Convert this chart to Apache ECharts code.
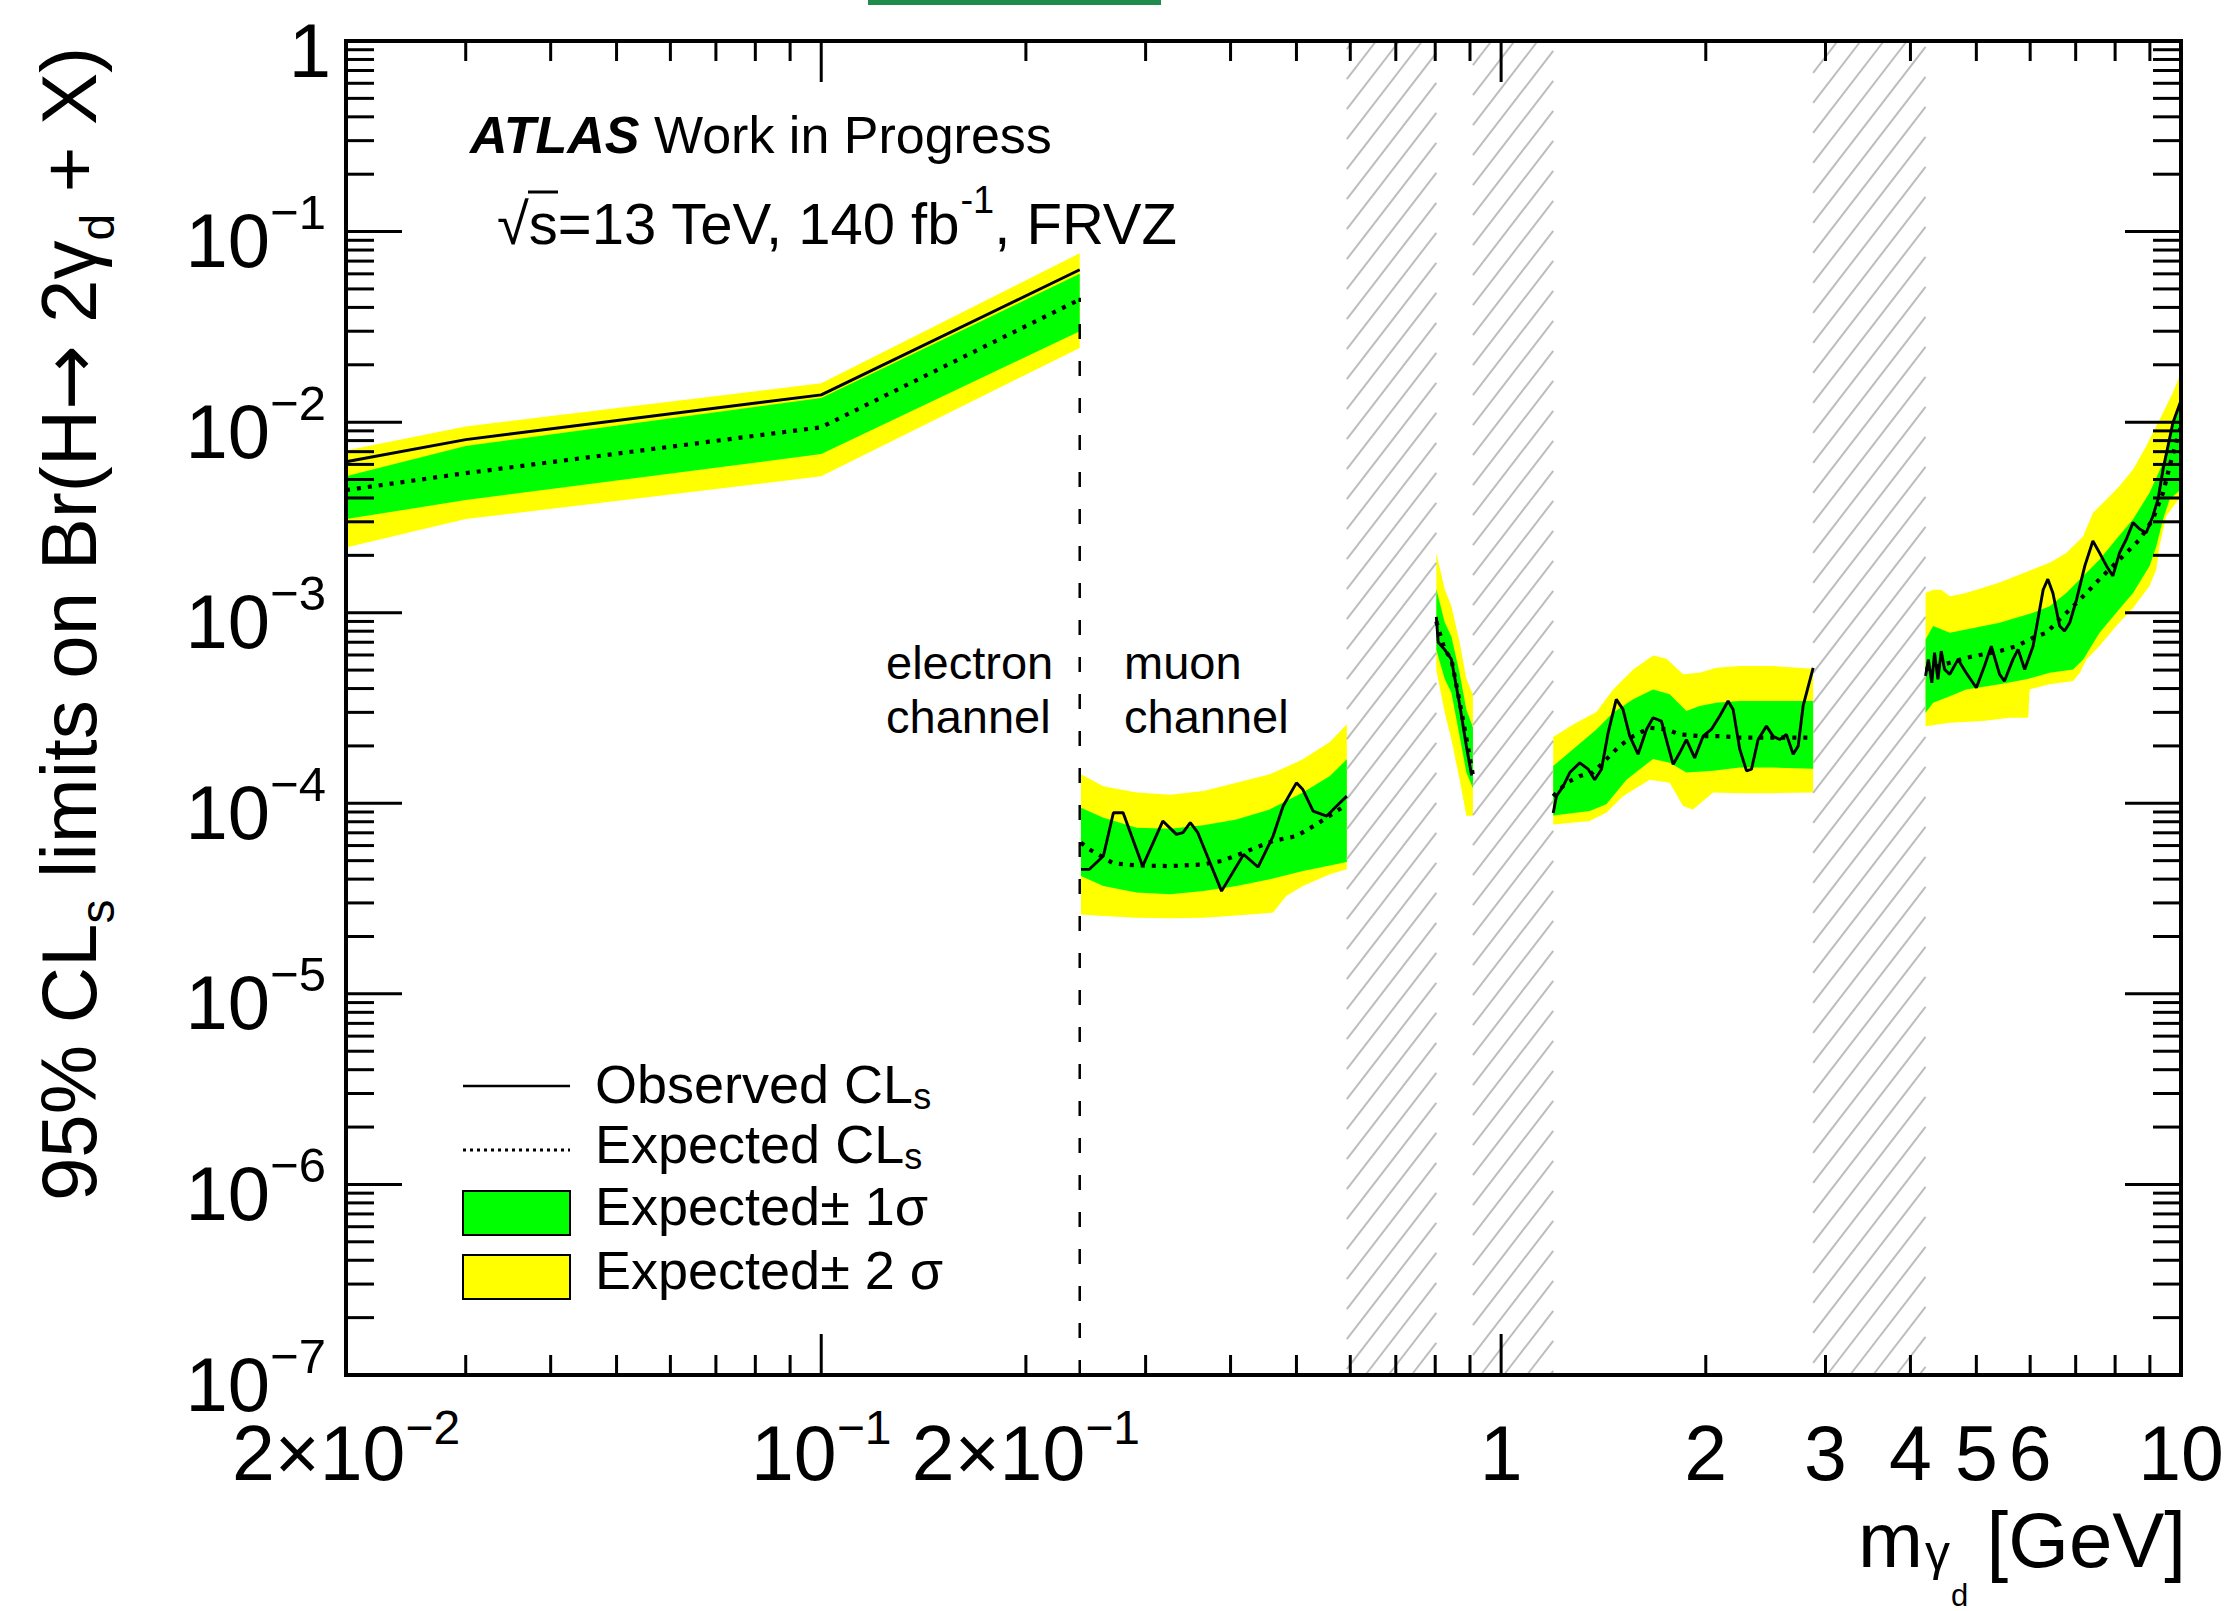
<!DOCTYPE html>
<html>
<head>
<meta charset="utf-8">
<title>FRVZ dark photon limits</title>
<script src="https://cdn.jsdelivr.net/npm/echarts@6.0.0/dist/echarts.min.js"></script>
<style>
html, body { margin:0; padding:0; background:#ffffff; }
#chart { width:2233px; height:1611px; }
</style>
</head>
<body>
<div id="chart"></div>
<script>
// ---------------- axis ranges & ticks ----------------
const X_MIN = 0.02, X_MAX = 10;
const Y_MIN = 1e-7, Y_MAX = 1;

const xLabelValues = [0.02, 0.1, 0.2, 1, 2, 3, 4, 5, 6, 10];
const xLabelBases  = ['2×10', '10', '2×10', '1', '2', '3', '4', '5', '6', '10'];
const xLabelExps   = ['−2', '−1', '−1', '', '', '', '', '', '', ''];

const yLabelValues = [1, 1e-1, 1e-2, 1e-3, 1e-4, 1e-5, 1e-6, 1e-7];
const yLabelBases  = ['1', '10', '10', '10', '10', '10', '10', '10'];
const yLabelExps   = ['', '−1', '−2', '−3', '−4', '−5', '−6', '−7'];

const xMajorTicks = [0.1, 1];
const xMinorTicks = [0.03, 0.04, 0.05, 0.06, 0.07, 0.08, 0.09,
                     0.2, 0.3, 0.4, 0.5, 0.6, 0.7, 0.8, 0.9,
                     2, 3, 4, 5, 6, 7, 8, 9];
const yDecades = [1e-7, 1e-6, 1e-5, 1e-4, 1e-3, 1e-2, 1e-1, 1];
const yMinorMultipliers = [2, 3, 4, 5, 6, 7, 8, 9];

// ---------------- electron channel [m (GeV), Br] ----------------
const elecObs  = [[0.02,0.0062],[0.03,0.0081],[0.1,0.0139],[0.24,0.063]];
const elecExp  = [[0.02,0.0044],[0.03,0.0054],[0.1,0.0094],[0.24,0.044]];
const elecG1Hi = [[0.02,0.0052],[0.03,0.0075],[0.1,0.0134],[0.24,0.060]];
const elecG1Lo = [[0.02,0.0031],[0.03,0.0039],[0.1,0.0068],[0.24,0.030]];
const elecY2Hi = [[0.02,0.0071],[0.03,0.0095],[0.1,0.016],[0.24,0.077]];
const elecY2Lo = [[0.02,0.0022],[0.03,0.0031],[0.1,0.0052],[0.24,0.0245]];

// ---------------- muon channel, segment 1 ----------------
const mu1Obs = [[0.241,4.50e-5],[0.248,4.51e-5],[0.260,5.29e-5],[0.269,8.92e-5],[0.278,8.92e-5],[0.297,4.68e-5],
  [0.318,8.07e-5],[0.333,6.87e-5],[0.3405,7.01e-5],[0.349,7.91e-5],[0.358,7.01e-5],[0.388,3.46e-5],[0.418,5.39e-5],
  [0.439,4.63e-5],[0.462,6.73e-5],[0.478,9.67e-5],[0.500,1.28e-4],[0.511,1.18e-4],[0.529,9.10e-5],[0.554,8.57e-5],
  [0.573,9.67e-5],[0.593,1.09e-4]];
const mu1Exp = [[0.241,6.21e-5],[0.248,5.73e-5],[0.269,4.84e-5],[0.291,4.72e-5],[0.326,4.68e-5],[0.365,4.78e-5],
  [0.388,4.98e-5],[0.418,5.50e-5],[0.439,5.92e-5],[0.462,6.34e-5],[0.500,6.73e-5],[0.535,7.75e-5],[0.573,9.10e-5],[0.593,9.87e-5]];
const mu1G1Hi = [[0.241,9.48e-5],[0.260,8.40e-5],[0.291,7.44e-5],[0.326,7.35e-5],[0.365,7.66e-5],[0.408,8.23e-5],
  [0.457,9.29e-5],[0.511,1.14e-4],[0.560,1.39e-4],[0.593,1.70e-4]];
const mu1G1Lo = [[0.241,4.15e-5],[0.260,3.68e-5],[0.291,3.40e-5],[0.326,3.33e-5],[0.365,3.46e-5],[0.408,3.68e-5],
  [0.457,3.99e-5],[0.511,4.41e-5],[0.560,4.72e-5],[0.593,4.92e-5]];
const mu1Y2Hi = [[0.241,1.42e-4],[0.260,1.23e-4],[0.291,1.14e-4],[0.326,1.11e-4],[0.365,1.16e-4],[0.408,1.28e-4],
  [0.457,1.42e-4],[0.511,1.70e-4],[0.560,2.10e-4],[0.593,2.60e-4]];
const mu1Y2Lo = [[0.241,2.61e-5],[0.260,2.56e-5],[0.291,2.51e-5],[0.326,2.49e-5],[0.365,2.51e-5],[0.408,2.58e-5],
  [0.462,2.67e-5],[0.483,3.26e-5],[0.511,3.68e-5],[0.560,4.24e-5],[0.593,4.50e-5]];

// ---------------- muon channel, segment 2 ----------------
const mu2Obs  = [[0.803,9.5e-4],[0.808,7.0e-4],[0.826,6.4e-4],[0.845,5.7e-4],[0.869,3.3e-4],[0.889,2.0e-4],[0.905,1.4e-4]];
const mu2Exp  = [[0.803,9.0e-4],[0.826,6.4e-4],[0.845,5.7e-4],[0.869,3.4e-4],[0.889,2.2e-4],[0.909,1.4e-4]];
const mu2G1Hi = [[0.803,1.33e-3],[0.826,8.9e-4],[0.845,7.5e-4],[0.869,4.8e-4],[0.889,3.1e-4],[0.909,2.5e-4]];
const mu2G1Lo = [[0.803,6.4e-4],[0.826,4.5e-4],[0.845,3.8e-4],[0.869,2.25e-4],[0.889,1.45e-4],[0.909,1.2e-4]];
const mu2Y2Hi = [[0.803,2.06e-3],[0.826,1.33e-3],[0.845,1.08e-3],[0.869,7.0e-4],[0.889,4.5e-4],[0.909,3.7e-4]];
const mu2Y2Lo = [[0.803,5.0e-4],[0.826,3.0e-4],[0.845,2.16e-4],[0.869,1.33e-4],[0.889,8.6e-5],[0.909,8.6e-5]];

// ---------------- muon channel, segment 3 ----------------
const mu3Obs = [[1.193,8.9e-5],[1.206,1.09e-4],[1.234,1.23e-4],[1.262,1.45e-4],[1.305,1.63e-4],[1.343,1.51e-4],
  [1.373,1.33e-4],[1.405,1.51e-4],[1.437,2.35e-4],[1.477,3.51e-4],[1.511,3.11e-4],[1.546,2.25e-4],[1.590,1.81e-4],
  [1.636,2.44e-4],[1.673,2.81e-4],[1.721,2.70e-4],[1.760,2.00e-4],[1.791,1.60e-4],[1.831,1.84e-4],[1.873,2.16e-4],
  [1.926,1.73e-4],[1.982,2.25e-4],[2.038,2.44e-4],[2.097,2.87e-4],[2.157,3.44e-4],[2.194,3.11e-4],[2.244,1.92e-4],
  [2.296,1.48e-4],[2.335,1.51e-4],[2.388,2.16e-4],[2.456,2.54e-4],[2.512,2.25e-4],[2.569,2.16e-4],[2.628,2.30e-4],
  [2.689,1.81e-4],[2.735,2.00e-4],[2.781,3.24e-4],[2.877,5.14e-4]];
const mu3Exp = [[1.193,1.09e-4],[1.248,1.28e-4],[1.305,1.39e-4],[1.365,1.45e-4],[1.428,1.70e-4],[1.494,2.00e-4],
  [1.564,2.25e-4],[1.654,2.49e-4],[1.751,2.44e-4],[1.831,2.30e-4],[1.959,2.25e-4],[2.097,2.25e-4],[2.244,2.21e-4],
  [2.401,2.21e-4],[2.569,2.21e-4],[2.750,2.21e-4],[2.877,2.21e-4]];
const mu3G1Hi = [[1.193,1.57e-4],[1.276,1.92e-4],[1.381,2.44e-4],[1.461,2.99e-4],[1.564,3.51e-4],[1.673,3.96e-4],
  [1.770,3.73e-4],[1.873,3.05e-4],[1.959,3.24e-4],[2.073,3.37e-4],[2.244,3.44e-4],[2.512,3.44e-4],[2.877,3.44e-4]];
const mu3G1Lo = [[1.193,8.64e-5],[1.350,9.10e-5],[1.428,9.87e-5],[1.529,1.33e-4],[1.673,1.71e-4],[1.770,1.63e-4],
  [1.873,1.45e-4],[2.050,1.48e-4],[2.244,1.54e-4],[2.512,1.54e-4],[2.877,1.52e-4]];
const mu3Y2Hi = [[1.193,2.23e-4],[1.276,2.59e-4],[1.381,3.01e-4],[1.461,3.96e-4],[1.564,5.04e-4],[1.673,5.97e-4],
  [1.751,5.73e-4],[1.852,4.75e-4],[1.959,4.84e-4],[2.073,5.14e-4],[2.244,5.25e-4],[2.512,5.25e-4],[2.877,5.08e-4]];
const mu3Y2Lo = [[1.193,7.75e-5],[1.350,8.07e-5],[1.428,8.92e-5],[1.511,1.09e-4],[1.654,1.33e-4],[1.770,1.28e-4],
  [1.852,9.67e-5],[1.915,9.29e-5],[2.050,1.14e-4],[2.244,1.13e-4],[2.512,1.13e-4],[2.877,1.14e-4]];

// ---------------- muon channel, segment 4 ----------------
const mu4Obs = [[4.21,4.65e-4],[4.25,5.69e-4],[4.30,4.29e-4],[4.34,6.17e-4],[4.39,4.47e-4],[4.44,6.29e-4],[4.49,5.04e-4],
  [4.57,4.75e-4],[4.70,5.69e-4],[4.83,4.84e-4],[5.00,4.04e-4],[5.14,5.25e-4],[5.26,6.68e-4],[5.41,4.75e-4],[5.50,4.38e-4],
  [5.66,5.69e-4],[5.76,6.42e-4],[5.89,5.04e-4],[6.06,6.68e-4],[6.16,9.23e-4],[6.27,1.32e-3],[6.37,1.50e-3],[6.48,1.27e-3],
  [6.63,8.51e-4],[6.74,8.01e-4],[6.86,8.86e-4],[7.02,1.17e-3],[7.22,1.76e-3],[7.42,2.38e-3],[7.59,2.06e-3],[7.77,1.76e-3],
  [7.94,1.56e-3],[8.12,2.06e-3],[8.31,2.43e-3],[8.50,2.97e-3],[8.70,2.74e-3],[8.89,2.63e-3],[9.09,3.21e-3],[9.25,3.93e-3],
  [9.41,5.65e-3],[9.57,7.49e-3],[9.73,9.93e-3],[10.0,1.3e-2]];
const mu4Exp = [[4.21,5.04e-4],[4.57,5.46e-4],[4.83,5.80e-4],[5.11,6.04e-4],[5.41,6.29e-4],[5.73,6.68e-4],[6.06,7.39e-4],
  [6.34,7.85e-4],[6.63,9.23e-4],[6.94,1.08e-3],[7.26,1.27e-3],[7.59,1.50e-3],[7.94,1.76e-3],[8.31,2.06e-3],[8.70,2.43e-3],
  [9.09,3.09e-3],[9.41,4.26e-3],[9.68,6.37e-3],[9.84,7.79e-3],[10.0,9.53e-3]];
const mu4G1Hi = [[4.21,7.24e-4],[4.32,8.51e-4],[4.57,7.85e-4],[4.83,8.17e-4],[5.41,8.86e-4],[6.06,1.00e-3],[6.41,1.08e-3],
  [6.78,1.27e-3],[7.18,1.56e-3],[7.59,1.90e-3],[8.03,2.43e-3],[8.50,3.09e-3],[8.99,4.26e-3],[9.41,6.12e-3],[9.73,9.53e-3],[10.0,1.37e-2]];
const mu4G1Lo = [[4.21,2.99e-4],[4.32,3.37e-4],[4.57,3.65e-4],[4.83,3.96e-4],[5.41,4.21e-4],[5.92,4.47e-4],[6.41,4.84e-4],
  [6.94,5.04e-4],[7.18,5.69e-4],[7.59,7.85e-4],[8.03,1.00e-3],[8.50,1.27e-3],[8.99,1.76e-3],[9.20,2.24e-3],[9.41,3.09e-3],
  [9.62,3.93e-3],[10.0,4.44e-3]];
const mu4Y2Hi = [[4.21,1.27e-3],[4.32,1.32e-3],[4.44,1.32e-3],[4.57,1.22e-3],[4.83,1.27e-3],[5.41,1.44e-3],[6.06,1.69e-3],
  [6.41,1.83e-3],[6.78,2.06e-3],[7.18,2.52e-3],[7.42,3.34e-3],[7.77,3.93e-3],[8.12,4.62e-3],[8.50,5.65e-3],[8.89,7.49e-3],
  [9.30,1.03e-2],[9.73,1.43e-2],[10.0,1.82e-2]];
const mu4Y2Lo = [[4.21,2.54e-4],[4.57,2.65e-4],[5.11,2.70e-4],[5.60,2.81e-4],[5.96,2.81e-4],[5.99,3.96e-4],[6.41,4.21e-4],
  [6.94,4.38e-4],[7.10,4.84e-4],[7.26,5.69e-4],[7.59,6.68e-4],[8.03,8.51e-4],[8.50,1.06e-3],[8.99,1.38e-3],[9.20,1.69e-3],
  [9.30,2.24e-3],[9.51,3.21e-3],[10.0,4.09e-3]];

// ---------------- vetoed (hatched) mass windows and channel divider ----------------
const vetoWindows = [[0.593, 0.803], [0.909, 1.193], [2.877, 4.21]];
const channelDivider = [[0.24, 1e-7], [0.24, 0.045]];

// ---------------- assembled from the arrays above ----------------
const yellowBands = [[elecY2Hi, elecY2Lo], [mu1Y2Hi, mu1Y2Lo], [mu2Y2Hi, mu2Y2Lo], [mu3Y2Hi, mu3Y2Lo], [mu4Y2Hi, mu4Y2Lo]];
const greenBands  = [[elecG1Hi, elecG1Lo], [mu1G1Hi, mu1G1Lo], [mu2G1Hi, mu2G1Lo], [mu3G1Hi, mu3G1Lo], [mu4G1Hi, mu4G1Lo]];
const observedCurves = [elecObs, mu1Obs, mu2Obs, mu3Obs, mu4Obs];
const expectedCurves = [elecExp, mu1Exp, mu2Exp, mu3Exp, mu4Exp];

const FONT = '"Liberation Sans", Arial, Helvetica, sans-serif';

function bandSeries(bands, color, z) {
  return {
    type: 'custom', z: z, silent: true, animation: false,
    encode: { x: 0, y: 1 },
    data: bands.map((b, i) => [b[0][0][0], b[0][0][1], i]),
    renderItem: function (params, api) {
      const b = bands[api.value(2)];
      const pts = b[0].map(p => api.coord(p)).concat(b[1].slice().reverse().map(p => api.coord(p)));
      return { type: 'polygon', shape: { points: pts }, style: { fill: color, stroke: null } };
    }
  };
}

function curveSeries(data, dashed, z) {
  return {
    type: 'line', data: data, z: z, silent: true, animation: false,
    symbol: 'none', showSymbol: false,
    lineStyle: dashed ? { color: '#000', width: 4.2, type: [4, 7] } : { color: '#000', width: 2.9, type: 'solid' }
  };
}

const tickItems = [];
xMajorTicks.forEach(m => tickItems.push([m, Y_MIN, 0]));
xMinorTicks.forEach(m => tickItems.push([m, Y_MIN, 1]));
yDecades.forEach(v => tickItems.push([X_MIN, v, 2]));
yDecades.slice(0, -1).forEach(d => yMinorMultipliers.forEach(k => tickItems.push([X_MIN, d * k, 3])));

const series = [];
series.push(bandSeries(yellowBands, '#ffff00', 1));
series.push(bandSeries(greenBands, '#00ff00', 2));

// hatched veto windows
series.push({
  type: 'custom', z: 2, silent: true, animation: false, encode: { x: 0, y: 1 },
  data: vetoWindows.map((w, i) => [w[0], Y_MIN, i]),
  renderItem: function (params, api) {
    const w = vetoWindows[api.value(2)];
    const tl = api.coord([w[0], Y_MAX]);
    const br = api.coord([w[1], Y_MIN]);
    const x0 = tl[0], x1 = br[0], y0 = tl[1], y1 = br[1];
    const s = 1.3, step = 30;
    const children = [];
    const cmin = y0 + s * x0, cmax = y1 + s * x1;
    for (let c = Math.ceil(cmin / step) * step; c <= cmax; c += step) {
      const xa = Math.max(x0, (c - y1) / s);
      const xb = Math.min(x1, (c - y0) / s);
      if (xb > xa) {
        children.push({ type: 'line', shape: { x1: xa, y1: c - s * xa, x2: xb, y2: c - s * xb },
          style: { stroke: '#bdbdbd', lineWidth: 2 } });
      }
    }
    return { type: 'group', children: children };
  }
});

expectedCurves.forEach(c => series.push(curveSeries(c, true, 4)));
observedCurves.forEach(c => series.push(curveSeries(c, false, 5)));

series.push({
  type: 'line', data: channelDivider, z: 4, silent: true, animation: false, symbol: 'none',
  lineStyle: { color: '#000', width: 2.5, type: [15, 22] }
});

// ticks on all four sides
series.push({
  type: 'custom', z: 6, silent: true, animation: false, encode: { x: 0, y: 1 },
  data: tickItems,
  renderItem: function (params, api) {
    const kind = api.value(2);
    const lt = api.coord([X_MIN, Y_MAX]);
    const rb = api.coord([X_MAX, Y_MIN]);
    const st = { stroke: '#000', lineWidth: 3 };
    if (kind < 2) {
      const x = api.coord([api.value(0), Y_MIN])[0];
      const len = kind === 0 ? 41 : 20;
      return { type: 'group', children: [
        { type: 'line', shape: { x1: x, y1: rb[1], x2: x, y2: rb[1] - len }, style: st },
        { type: 'line', shape: { x1: x, y1: lt[1], x2: x, y2: lt[1] + len }, style: st }
      ] };
    }
    const y = api.coord([X_MIN, api.value(1)])[1];
    const len = kind === 2 ? 56 : 28;
    return { type: 'group', children: [
      { type: 'line', shape: { x1: lt[0], y1: y, x2: lt[0] + len, y2: y }, style: st },
      { type: 'line', shape: { x1: rb[0], y1: y, x2: rb[0] - len, y2: y }, style: st }
    ] };
  }
});

// frame
series.push({
  type: 'custom', z: 7, silent: true, animation: false, encode: { x: 0, y: 1 },
  data: [[X_MIN, Y_MIN]],
  renderItem: function (params, api) {
    const lt = api.coord([X_MIN, Y_MAX]);
    const rb = api.coord([X_MAX, Y_MIN]);
    return { type: 'rect', shape: { x: lt[0], y: lt[1], width: rb[0] - lt[0], height: rb[1] - lt[1] },
      style: { fill: null, stroke: '#000', lineWidth: 4 } };
  }
});

// x tick labels
series.push({
  type: 'custom', z: 7, silent: true, animation: false, encode: { x: 0, y: 1 },
  data: xLabelValues.map((m, i) => [m, Y_MIN, i]),
  renderItem: function (params, api) {
    const i = api.value(2);
    const p = api.coord([api.value(0), Y_MIN]);
    const txt = xLabelExps[i] ? '{b|' + xLabelBases[i] + '}{s|' + xLabelExps[i] + '}' : '{b|' + xLabelBases[i] + '}';
    return { type: 'text', x: p[0], y: p[1] + 78, style: {
      text: txt, fill: '#000', align: 'center', textAlign: 'center', verticalAlign: 'middle', textVerticalAlign: 'middle',
      fontFamily: FONT, fontSize: 77,
      rich: { b: { fontSize: 77, lineHeight: 100, fontFamily: FONT, fill: '#000' },
              s: { fontSize: 48, lineHeight: 48, verticalAlign: 'top', fontFamily: FONT, fill: '#000' } }
    } };
  }
});

// y tick labels
series.push({
  type: 'custom', z: 7, silent: true, animation: false, encode: { x: 0, y: 1 },
  data: yLabelValues.map((v, i) => [X_MIN, v, i]),
  renderItem: function (params, api) {
    const i = api.value(2);
    const p = api.coord([X_MIN, api.value(1)]);
    const hasExp = !!yLabelExps[i];
    const txt = hasExp ? '{b|' + yLabelBases[i] + '}{s|' + yLabelExps[i] + '}' : '{b|' + yLabelBases[i] + '}';
    return { type: 'text', x: p[0] - (hasExp ? 20 : 15), y: p[1] + 9, style: {
      text: txt, fill: '#000', align: 'right', textAlign: 'right', verticalAlign: 'middle', textVerticalAlign: 'middle',
      fontFamily: FONT, fontSize: 76,
      rich: { b: { fontSize: 76, lineHeight: 106, fontFamily: FONT, fill: '#000' },
              s: { fontSize: 49, lineHeight: 49, verticalAlign: 'top', fontFamily: FONT, fill: '#000' } }
    } };
  }
});

function txt(x, y, text, size, extra) {
  return Object.assign({ type: 'text', x: x, y: y, z: 100, silent: true,
    style: Object.assign({ text: text, fill: '#000', fontFamily: FONT, fontSize: size,
      align: 'left', textAlign: 'left', verticalAlign: 'middle', textVerticalAlign: 'middle' }, extra || {}) });
}

const graphics = [
  { type: 'rect', shape: { x: 868, y: 0, width: 293, height: 5 }, style: { fill: '#1f8b4c' }, silent: true },
  // ATLAS label
  txt(470, 135, 'ATLAS', 52, { fontWeight: 'bold', fontStyle: 'italic' }),
  txt(654, 135, 'Work in Progress', 52),
  txt(497, 223, '{n|√s=13 TeV, 140 fb}{p|-1}{n|, FRVZ}', 58, {
    rich: { n: { fontSize: 58, lineHeight: 84, fontFamily: FONT, fill: '#000' },
            p: { fontSize: 38, lineHeight: 38, verticalAlign: 'top', fontFamily: FONT, fill: '#000' } } }),
  { type: 'line', shape: { x1: 528, y1: 192, x2: 558, y2: 192 }, style: { stroke: '#000', lineWidth: 3 }, silent: true, z: 100 },
  // channel labels
  txt(886, 662, 'electron', 47),
  txt(886, 716, 'channel', 47),
  txt(1124, 662, 'muon', 47),
  txt(1124, 716, 'channel', 47),
  // legend
  { type: 'line', shape: { x1: 463, y1: 1086, x2: 570, y2: 1086 }, style: { stroke: '#000', lineWidth: 2.5 }, silent: true, z: 100 },
  { type: 'line', shape: { x1: 463, y1: 1150, x2: 570, y2: 1150 }, style: { stroke: '#000', lineWidth: 3, lineDash: [3, 4] }, silent: true, z: 100 },
  { type: 'rect', shape: { x: 463, y: 1191, width: 107, height: 44 }, style: { fill: '#00ff00', stroke: '#000', lineWidth: 2 }, silent: true, z: 100 },
  { type: 'rect', shape: { x: 463, y: 1255, width: 107, height: 44 }, style: { fill: '#ffff00', stroke: '#000', lineWidth: 2 }, silent: true, z: 100 },
  txt(595, 1084, '{n|Observed CL}{s|s}', 54, {
    rich: { n: { fontSize: 54, lineHeight: 60, fontFamily: FONT, fill: '#000' },
            s: { fontSize: 36, lineHeight: 36, verticalAlign: 'bottom', fontFamily: FONT, fill: '#000' } } }),
  txt(595, 1144, '{n|Expected CL}{s|s}', 54, {
    rich: { n: { fontSize: 54, lineHeight: 60, fontFamily: FONT, fill: '#000' },
            s: { fontSize: 36, lineHeight: 36, verticalAlign: 'bottom', fontFamily: FONT, fill: '#000' } } }),
  txt(595, 1206, 'Expected± 1σ', 54),
  txt(595, 1270, 'Expected± 2 σ', 54),
  // x-axis title
  txt(1858, 1540, 'm', 78),
  txt(1925, 1553, 'γ', 50),
  txt(1951, 1595, 'd', 31),
  txt(2186, 1540, '[GeV]', 78, { align: 'right', textAlign: 'right' }),
  // y-axis title
  Object.assign(txt(69, 624, '{n|95% CL}{s|s}{n| limits on Br(H}{a|→}{n| 2γ}{s|d}{n| + X)}', 78, {
    align: 'center', textAlign: 'center',
    rich: { n: { fontSize: 78, lineHeight: 104, fontFamily: FONT, fill: '#000' },
            a: { fontSize: 78, lineHeight: 104, fontFamily: '"DejaVu Sans", sans-serif', fill: '#000' },
            s: { fontSize: 48, lineHeight: 48, verticalAlign: 'bottom', fontFamily: FONT, fill: '#000' } } }),
    { rotation: Math.PI / 2 })
];

const chart = echarts.init(document.getElementById('chart'), null, { renderer: 'svg', width: 2233, height: 1611 });
chart.setOption({
  backgroundColor: '#ffffff',
  animation: false,
  grid: { left: 346, top: 41, width: 1835, height: 1334, containLabel: false, show: false },
  xAxis: { type: 'log', logBase: 10, min: X_MIN, max: X_MAX, show: false },
  yAxis: { type: 'log', logBase: 10, min: Y_MIN, max: Y_MAX, show: false },
  series: series,
  graphic: { elements: graphics }
});
</script>
</body>
</html>
